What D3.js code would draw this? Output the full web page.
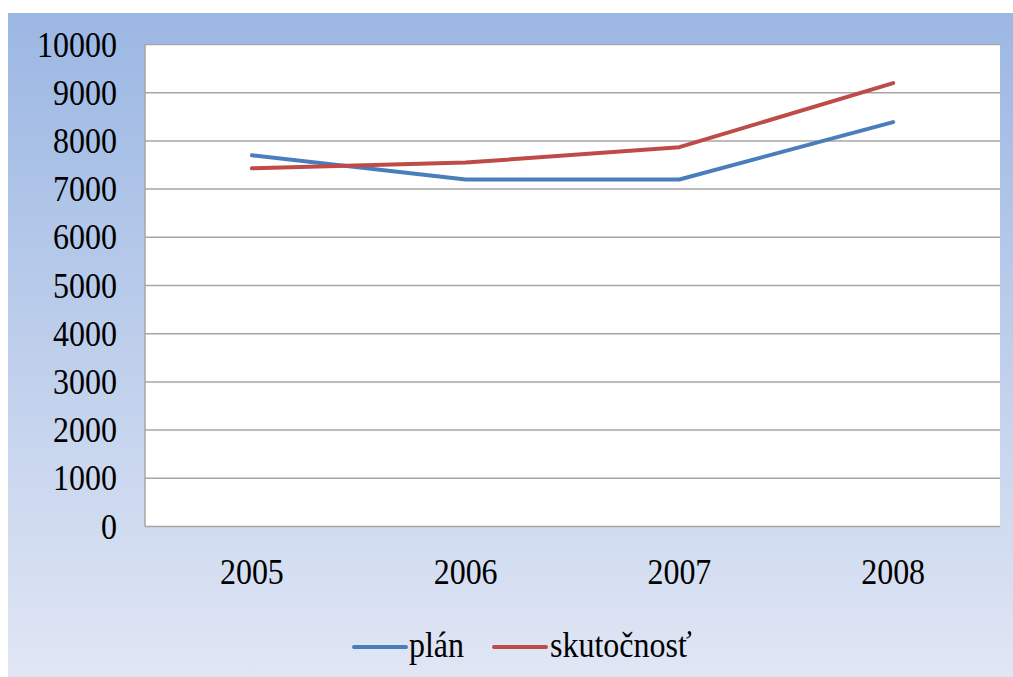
<!DOCTYPE html>
<html><head><meta charset="utf-8">
<script src="https://cdn.jsdelivr.net/npm/d3@7"></script>
<style>body{margin:0;background:#fff}svg{display:block}</style>
</head><body>
<script>
const categories = ["2005","2006","2007","2008"];
const planValues = [7700, 7200, 7200, 8390];
const actualValues = [7430, 7550, 7870, 9200];
const seriesNames = ["plán","skutočnosť"];
const yTicks = [0,1000,2000,3000,4000,5000,6000,7000,8000,9000,10000];

const W = 1013, H = 677;
const FONT = "'Liberation Serif'";
const FS = 32, SY = 1.1;
const svg = d3.select("body").append("svg").attr("width", W).attr("height", H);
const defs = svg.append("defs");
const g = defs.append("linearGradient").attr("id","bg").attr("x1",0).attr("y1",0).attr("x2",0).attr("y2",1);
g.append("stop").attr("offset","0%").attr("stop-color","#9bb7e3");
g.append("stop").attr("offset","100%").attr("stop-color","#e0e6f4");
svg.append("rect").attr("x",8).attr("y",13).attr("width",W-8).attr("height",H-13).attr("fill","url(#bg)");

const m = {left:145, top:44.5, right:1000, bottom:526.5};
const x = d3.scaleBand().domain(categories).range([m.left, m.right]);
const y = d3.scaleLinear().domain([0,10000]).range([m.bottom, m.top]);

svg.append("rect").attr("x",m.left).attr("y",m.top).attr("width",m.right-m.left).attr("height",m.bottom-m.top).attr("fill","#fff");

svg.append("g").selectAll("line").data(yTicks).join("line")
  .attr("x1",m.left).attr("x2",m.right).attr("y1",d=>y(d)).attr("y2",d=>y(d))
  .attr("stroke","#a6a6a6").attr("stroke-width",1.5);
svg.append("line").attr("x1",m.left).attr("x2",m.left).attr("y1",m.top).attr("y2",m.bottom).attr("stroke","#a6a6a6").attr("stroke-width",1.5);

function styleText(sel){
  sel.style("font-family",FONT).style("font-size",FS+"px").style("fill","#000");
}

const yAxis = d3.axisLeft(y).tickValues(yTicks).tickFormat(d3.format("d")).tickSize(0).tickPadding(0);
const ya = svg.append("g").attr("transform",`translate(117,0)`).call(yAxis);
ya.select(".domain").remove();
ya.selectAll("text").call(styleText).attr("x",0).attr("dy","0.33em").attr("transform",`scale(1,${SY})`);

const xAxis = d3.axisBottom(x).tickSize(0).tickPadding(0);
const xa = svg.append("g").attr("transform",`translate(0,${m.bottom})`).call(xAxis);
xa.select(".domain").remove();
xa.selectAll("text").call(styleText).attr("dy",0).attr("y",57.5/SY).attr("transform",`scale(1,${SY})`);

const line = d3.line().x((d,i)=>x(categories[i])+x.bandwidth()/2).y(d=>y(d));
const colors = ["#4a7ebb","#be4b48"];
[planValues, actualValues].forEach((vals,i)=>{
  svg.append("path").attr("d",line(vals)).attr("fill","none").attr("stroke",colors[i])
    .attr("stroke-width",4).attr("stroke-linecap","round").attr("stroke-linejoin","round");
});

const leg = [{x0:354,tx:409},{x0:494,tx:550}];
seriesNames.forEach((n,i)=>{
  svg.append("line").attr("x1",leg[i].x0).attr("x2",leg[i].x0+52).attr("y1",647).attr("y2",647)
    .attr("stroke",colors[i]).attr("stroke-width",4).attr("stroke-linecap","round");
  svg.append("text").attr("x",leg[i].tx).attr("y",657/SY).attr("transform",`scale(1,${SY})`).text(n).call(styleText);
});
</script>
</body></html>
